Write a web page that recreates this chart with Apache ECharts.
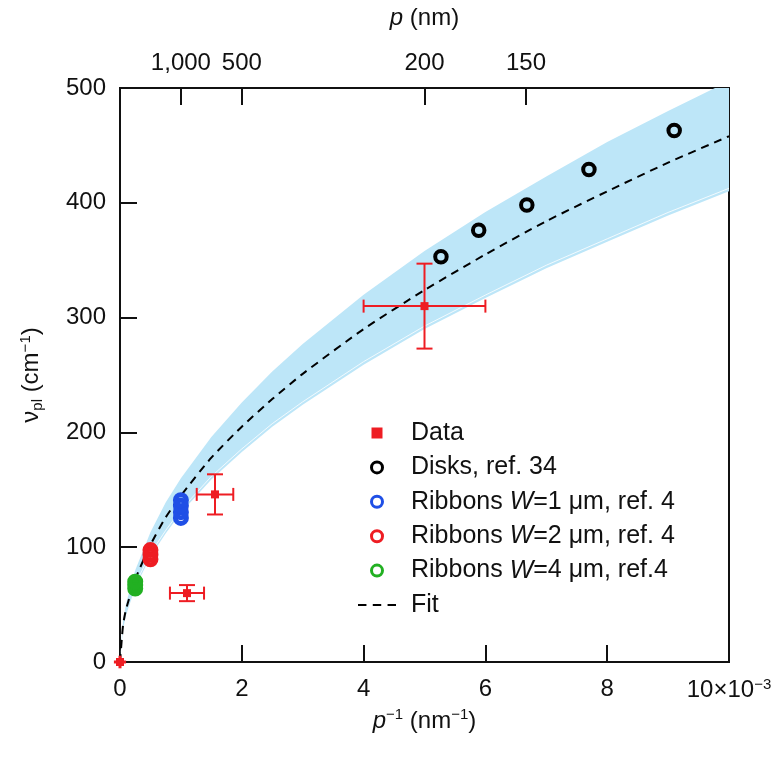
<!DOCTYPE html>
<html><head><meta charset="utf-8">
<script src="https://cdn.jsdelivr.net/npm/echarts@6/dist/echarts.min.js"></script>
<style>html,body{margin:0;padding:0;background:#fff}#c{width:781px;height:758px}</style>
</head><body><div id="c"></div>
<script>
// x values in units of 1e-3 nm^-1
const curveX  = [0, 0.05, 0.1, 0.25, 0.5, 0.75, 1, 1.5, 2, 2.5, 3, 4, 5, 6, 7, 8, 9, 10];
const fitY    = [0, 32, 46, 72, 102, 126, 145, 178, 205, 229, 251, 290, 324, 355, 384, 410, 435, 458];
const bandUp  = [0, 36, 51, 80, 113, 139, 160, 196, 226, 253, 277, 320, 358, 392, 423, 453, 480, 506];
const bandLow = [0, 29, 41, 65, 92, 112, 130, 159, 183, 205, 224, 259, 290, 317, 343, 366, 389, 410];

const dataX    = [0, 1.1, 1.56, 5.0];
const dataY    = [0, 60, 146, 310];
const dataXErr = [0.1, 0.28, 0.3, 1.0];
const dataYErr = [5.5, 7, 17.5, 37];

const diskX = [5.27, 5.89, 6.68, 7.70, 9.10];
const diskY = [353, 376, 398, 429, 463];

const rib1X = [1.0, 1.0, 1.0, 1.0];
const rib1Y = [125.5, 130.5, 136, 141];
const rib2X = [0.5, 0.5, 0.5];
const rib2Y = [89.5, 93.5, 97.5];
const rib4X = [0.25, 0.25, 0.25];
const rib4Y = [64, 67, 70];

const bottomTicks = [0, 2, 4, 6, 8, 10];
const leftTicks = [0, 100, 200, 300, 400, 500];
const topTickP = [1000, 500, 200, 150];
const topTickLabels = ['1,000', '500', '200', '150'];

const RED = '#ee1d23', BLUE = '#1f4fe6', GREEN = '#22b022', BAND = '#bde6f8';
const FONT = '"Liberation Sans", Arial, Helvetica, sans-serif';

const zip = (a, b) => a.map((v, i) => [v, b[i]]);
const topTickPos = topTickP.map(p => 1000 / p);
const axisLineStyle = { color: '#111', width: 2 };
const LF = 25, LH = 34;

const ringStyle = c => ({ color: 'rgba(0,0,0,0)', borderColor: c, borderWidth: 3, opacity: 1 });
const ribStyle = c => ({ color: 'rgba(0,0,0,0)', borderColor: c, borderWidth: 5, opacity: 1 });

const chart = echarts.init(document.getElementById('c'));
const option = {
  animation: false,
  backgroundColor: '#fff',
  textStyle: { fontFamily: FONT },
  grid: { left: 120, right: 52, top: 88, bottom: 96, show: true, borderColor: '#111', borderWidth: 2, backgroundColor: 'transparent' },
  xAxis: [{
    type: 'value', min: 0, max: 10, interval: 2, position: 'bottom',
    axisLine: { show: true, lineStyle: axisLineStyle },
    axisTick: { show: true, inside: true, length: 17, lineStyle: axisLineStyle },
    splitLine: { show: false },
    axisLabel: {
      fontSize: 24, color: '#111', margin: 15, fontFamily: FONT,
      formatter: v => bottomTicks.includes(v) ? (v === 10 ? '10×10{sup|−3}' : String(v)) : '',
      rich: { sup: { fontSize: 15, verticalAlign: 'top', color: '#111', fontFamily: FONT, padding: [0, 0, 12, 0] } }
    },
    name: '{i|p}{sup|−1} (nm{sup|−1})', nameLocation: 'middle', nameGap: 40,
    nameTextStyle: {
      fontSize: 24, color: '#111', fontFamily: FONT,
      rich: {
        i: { fontStyle: 'italic', fontSize: 24, color: '#111', fontFamily: FONT },
        sup: { fontSize: 15, verticalAlign: 'top', color: '#111', fontFamily: FONT, padding: [0, 0, 12, 0] }
      }
    }
  }, {
    type: 'value', min: 0, max: 10, position: 'top',
    axisLine: { show: true, lineStyle: axisLineStyle },
    axisTick: { show: true, inside: true, length: 17, lineStyle: axisLineStyle, customValues: topTickPos },
    splitLine: { show: false },
    axisLabel: {
      fontSize: 24, color: '#111', margin: 13, fontFamily: FONT, customValues: topTickPos,
      formatter: v => { const i = topTickPos.findIndex(p => Math.abs(p - v) < 1e-6); return i >= 0 ? topTickLabels[i] : ''; }
    },
    name: '{i|p} (nm)', nameLocation: 'middle', nameGap: 58,
    nameTextStyle: { fontSize: 24, color: '#111', fontFamily: FONT, rich: { i: { fontStyle: 'italic', fontSize: 24, color: '#111', fontFamily: FONT } } }
  }],
  yAxis: [{
    type: 'value', min: 0, max: 500, interval: 100,
    axisLine: { show: true, lineStyle: axisLineStyle },
    axisTick: { show: true, inside: true, length: 17, lineStyle: axisLineStyle },
    splitLine: { show: false },
    axisLabel: { fontSize: 24, color: '#111', margin: 14, fontFamily: FONT, formatter: v => leftTicks.includes(v) ? String(v) : '' },
    name: '{n|ν}{sub|pl} (cm{sup|−1})', nameLocation: 'middle', nameGap: 75, nameRotate: 90,
    nameTextStyle: {
      fontSize: 24, color: '#111', fontFamily: FONT,
      rich: {
        n: { fontSize: 24, color: '#111', fontFamily: FONT },
        sub: { fontSize: 15, verticalAlign: 'bottom', color: '#111', fontFamily: FONT, padding: [10, 0, 0, 0] },
        sup: { fontSize: 15, verticalAlign: 'top', color: '#111', fontFamily: FONT, padding: [0, 0, 12, 0] }
      }
    }
  }],
  legend: {
    orient: 'vertical', left: 358, top: 416, padding: 0, itemGap: 0.4,
    itemWidth: 38, itemHeight: 11, selectedMode: false,
    textStyle: { fontSize: LF, color: '#111', fontFamily: FONT, lineHeight: LH, rich: {
      sp: { width: 10, fontSize: LF, lineHeight: LH },
      i: { fontStyle: 'italic', fontSize: LF, color: '#111', fontFamily: FONT, lineHeight: LH },
      t: { fontSize: LF, color: '#111', fontFamily: FONT, lineHeight: LH }
    } },
    formatter: name => {
      const parts = name.split('W');
      if (parts.length === 2) return '{sp|}{t|' + parts[0] + '}{i|W}{t|' + parts[1] + '}';
      return '{sp|}{t|' + name + '}';
    },
    data: [
      { name: 'Data', icon: 'path://M0,0L10,0L10,10L0,10Z', itemStyle: { color: RED, opacity: 1 } },
      { name: 'Disks, ref. 34', icon: 'circle', itemStyle: ringStyle('#000') },
      { name: 'Ribbons W=1 μm, ref. 4', icon: 'circle', itemStyle: ringStyle(BLUE) },
      { name: 'Ribbons W=2 μm, ref. 4', icon: 'circle', itemStyle: ringStyle(RED) },
      { name: 'Ribbons W=4 μm, ref.4', icon: 'circle', itemStyle: ringStyle(GREEN) },
      { name: 'Fit', icon: 'path://M0,0h8v2h-8z M14,0h8v2h-8z M28,0h8v2h-8z', itemStyle: { color: '#000', opacity: 1 } }
    ]
  },
  series: [
    { name: 'band', type: 'custom', clip: true, silent: true, z: 1,
      data: [[0, 0]],
      renderItem: (params, api) => {
        const pts = [];
        curveX.forEach((x, i) => pts.push(api.coord([x, bandUp[i]])));
        for (let i = curveX.length - 1; i >= 0; i--) pts.push(api.coord([curveX[i], bandLow[i]]));
        const lowPts = curveX.map((x, i) => api.coord([x, bandLow[i]])).map(p => [p[0], p[1] - 3]);
        return { type: 'group', children: [
          { type: 'polygon', shape: { points: pts }, style: { fill: BAND, stroke: null } },
          { type: 'polyline', shape: { points: lowPts.slice(3) }, style: { stroke: '#ffffff', lineWidth: 1, fill: null, opacity: 0.8 } }
        ] };
      }
    },
    { name: 'Fit', type: 'line', data: zip(curveX, fitY), symbol: 'none', showSymbol: false, smooth: 0.2,
      lineStyle: { color: '#000', width: 2, type: [8, 6] }, itemStyle: { color: '#000' }, z: 3 },
    { name: 'Ribbons W=4 μm, ref.4', type: 'scatter', data: zip(rib4X, rib4Y), symbol: 'circle', symbolSize: 11, clip: false,
      itemStyle: ribStyle(GREEN), z: 4 },
    { name: 'Ribbons W=2 μm, ref. 4', type: 'scatter', data: zip(rib2X, rib2Y), symbol: 'circle', symbolSize: 11, clip: false,
      itemStyle: ribStyle(RED), z: 4 },
    { name: 'Ribbons W=1 μm, ref. 4', type: 'scatter', data: zip(rib1X, rib1Y), symbol: 'circle', symbolSize: 11, clip: false,
      itemStyle: ribStyle(BLUE), z: 4 },
    { name: 'Disks, ref. 34', type: 'scatter', data: zip(diskX, diskY), symbol: 'circle', symbolSize: 11.5, clip: false,
      itemStyle: { color: 'rgba(0,0,0,0)', borderColor: '#000', borderWidth: 4, opacity: 1 }, z: 4 },
    { name: 'errorBars', type: 'custom', clip: false, silent: true, z: 5,
      data: dataX.map((x, i) => [x, dataY[i], dataXErr[i], dataYErr[i]]),
      renderItem: (params, api) => {
        const x = api.value(0), y = api.value(1), ex = api.value(2), ey = api.value(3);
        const l = api.coord([x - ex, y]), r = api.coord([x + ex, y]);
        const t = api.coord([x, y + ey]), b = api.coord([x, y - ey]);
        const small = ex < 0.15;
        const cx = 6.5, cy = 8;
        const st = { stroke: RED, lineWidth: small ? 3 : 2 };
        const ln = (x1, y1, x2, y2) => ({ type: 'line', shape: { x1, y1, x2, y2 }, style: st });
        const kids = [ln(l[0], l[1], r[0], r[1]), ln(t[0], t[1], b[0], b[1])];
        if (!small) kids.push(
          ln(l[0], l[1] - cx, l[0], l[1] + cx),
          ln(r[0], r[1] - cx, r[0], r[1] + cx),
          ln(t[0] - cy, t[1], t[0] + cy, t[1]),
          ln(b[0] - cy, b[1], b[0] + cy, b[1]));
        return { type: 'group', children: kids };
      }
    },
    { name: 'Data', type: 'scatter', data: zip(dataX, dataY), symbol: 'rect', symbolSize: 8, clip: false,
      itemStyle: { color: RED, opacity: 1 }, z: 6 }
  ]
};
chart.setOption(option);
</script>
</body></html>
